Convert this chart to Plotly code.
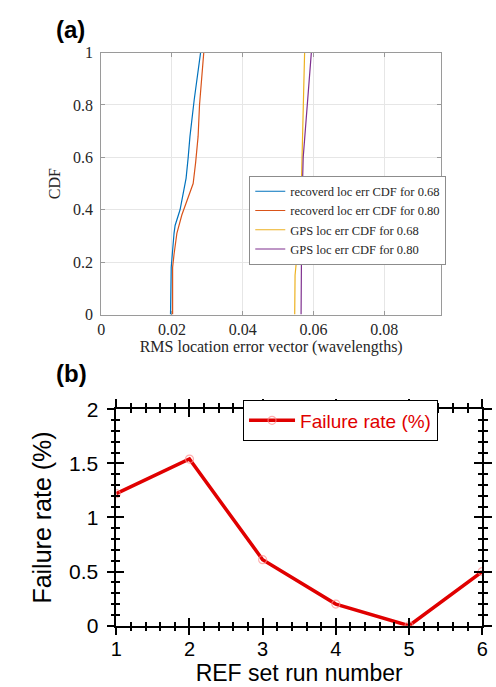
import plotly.graph_objects as go

# ---------- Panel (a) data: CDF curves ----------
rec68_cdf = [0, 0.18, 0.31, 0.34, 0.40, 0.49, 0.52, 0.60, 0.68, 0.82, 1.0]
rec68_err = [0.0196, 0.0198, 0.0206, 0.0209, 0.0223, 0.0237, 0.0240, 0.0246, 0.0251, 0.0263, 0.0281]

rec80_cdf = [0, 0.18, 0.23, 0.31, 0.38, 0.45, 0.50, 0.58, 0.68, 0.80, 0.90, 1.0]
rec80_err = [0.0202, 0.0202, 0.0206, 0.0214, 0.0228, 0.0246, 0.0260, 0.0267, 0.0274, 0.0278, 0.0283, 0.0290]

gps68_cdf = [0, 0.15, 0.22, 0.30, 0.45, 0.65, 0.80, 1.0]
gps68_err = [0.0547, 0.0548, 0.0553, 0.0560, 0.0565, 0.0568, 0.0571, 0.0575]

gps80_cdf = [0, 0.2, 0.4, 0.6, 0.7, 0.8, 1.0]
gps80_err = [0.0565, 0.0566, 0.0567, 0.0571, 0.0577, 0.0584, 0.0594]

a_xticks = [0, 0.02, 0.04, 0.06, 0.08]
a_xticklabels = ["0", "0.02", "0.04", "0.06", "0.08"]
a_yticks = [0, 0.2, 0.4, 0.6, 0.8, 1.0]
a_yticklabels = ["0", "0.2", "0.4", "0.6", "0.8", "1"]

# ---------- Panel (b) data: failure rate ----------
runs = [1, 2, 3, 4, 5, 6]
failure_rate = [1.22, 1.54, 0.61, 0.20, 0.0, 0.50]
b_yticks = [0, 0.5, 1, 1.5, 2]
b_yticklabels = ["0", "0.5", "1", "1.5", "2"]

W, H = 496, 687
SERIF = "Liberation Serif, Times New Roman, serif"
SANS = "Liberation Sans, Arial, sans-serif"

fig = go.Figure()

series = [
    (rec68_err, rec68_cdf, "recoverd loc err CDF for 0.68", "#0072BD"),
    (rec80_err, rec80_cdf, "recoverd loc err CDF for 0.80", "#D95319"),
    (gps68_err, gps68_cdf, "GPS loc err CDF for 0.68", "#EDB120"),
    (gps80_err, gps80_cdf, "GPS loc err CDF for 0.80", "#7E2F8E"),
]
for xs, ys, name, col in series:
    fig.add_trace(go.Scatter(x=xs, y=ys, mode="lines", name=name,
                             line=dict(color=col, width=1.2),
                             xaxis="x", yaxis="y", legend="legend"))

fig.add_trace(go.Scatter(x=runs, y=failure_rate, mode="lines+markers",
                         name="Failure rate (%)",
                         line=dict(color="#e00000", width=3.5),
                         marker=dict(symbol="circle-open", size=8,
                                     color="rgba(255,140,140,0.7)",
                                     line=dict(width=1.2)),
                         xaxis="x2", yaxis="y2", legend="legend2"))
# invisible trace to activate the overlay axes (inner tick halves)
fig.add_trace(go.Scatter(x=[runs[0]], y=[failure_rate[0]], mode="markers",
                         marker=dict(opacity=0), showlegend=False,
                         hoverinfo="skip", xaxis="x3", yaxis="y3"))

a_xdom = [97.5 / W, 446 / W]
a_ydom = [(H - 313) / H, (H - 42) / H]
b_xdom = [113 / W, 488 / W]
b_ydom = [(H - 635) / H, (H - 411) / H]

grid_col = "#e6e6e6"
axis_col = "#9a9a9a"

fig.update_layout(
    width=W, height=H,
    margin=dict(l=0, r=0, t=0, b=0),
    paper_bgcolor="white", plot_bgcolor="white",
    showlegend=True,
    xaxis=dict(domain=a_xdom, anchor="y", range=[0, 0.0961],
               tickvals=a_xticks, ticktext=a_xticklabels,
               showgrid=True, gridcolor=grid_col, gridwidth=1,
               zeroline=False, showline=True, linecolor=axis_col, linewidth=1,
               mirror="ticks", ticks="inside", ticklen=4, tickcolor=axis_col,
               tickfont=dict(family=SERIF, size=16, color="#262626"),
               title=dict(text="RMS location error vector (wavelengths)",
                          font=dict(family=SERIF, size=16, color="#262626"),
                          standoff=0)),
    yaxis=dict(domain=a_ydom, anchor="x", range=[0, 1],
               tickvals=a_yticks, ticktext=a_yticklabels,
               showgrid=True, gridcolor=grid_col, gridwidth=1,
               zeroline=False, showline=True, linecolor=axis_col, linewidth=1,
               mirror="ticks", ticks="inside", ticklen=4, tickcolor=axis_col,
               ticklabelstandoff=4,
               tickfont=dict(family=SERIF, size=16, color="#262626"),
               title=dict(text="CDF",
                          font=dict(family=SERIF, size=16, color="#262626"),
                          standoff=8)),
    xaxis2=dict(domain=b_xdom, anchor="y2", range=[1, 6],
                dtick=1, tick0=1, showgrid=False, zeroline=False,
                showline=True, linecolor="black", linewidth=1.5,
                mirror="ticks", ticks="outside", ticklen=8, tickwidth=1.5,
                tickcolor="black", ticklabelstandoff=-3,
                minor=dict(ticks="outside", ticklen=4, dtick=0.2, tick0=1,
                           tickcolor="black", tickwidth=1.5, showgrid=False),
                tickfont=dict(family=SANS, size=20, color="black"),
                title=dict(text="REF set run number",
                           font=dict(family=SANS, size=23, color="black"),
                           standoff=0)),
    yaxis2=dict(domain=b_ydom, anchor="x2", range=[0, 2],
                tickvals=b_yticks, ticktext=b_yticklabels,
                showgrid=False, zeroline=False,
                showline=True, linecolor="black", linewidth=1.5,
                mirror="ticks", ticks="outside", ticklen=8, tickwidth=1.5,
                tickcolor="black", ticklabelstandoff=4,
                minor=dict(ticks="outside", ticklen=4, dtick=0.1, tick0=0,
                           tickcolor="black", tickwidth=1.5, showgrid=False),
                tickfont=dict(family=SANS, size=21, color="black"),
                title=dict(text="Failure rate (%)",
                           font=dict(family=SANS, size=25, color="black"),
                           standoff=10)),
    xaxis3=dict(domain=b_xdom, anchor="y3", overlaying="x2", range=[1, 6],
                dtick=1, tick0=1, showgrid=False, zeroline=False,
                showline=False, showticklabels=False,
                mirror="ticks", ticks="inside", ticklen=8, tickwidth=1.5,
                tickcolor="black",
                minor=dict(ticks="inside", ticklen=4, dtick=0.2, tick0=1,
                           tickcolor="black", tickwidth=1.5, showgrid=False)),
    yaxis3=dict(domain=b_ydom, anchor="x3", overlaying="y2", range=[0, 2],
                dtick=0.5, tick0=0, showgrid=False, zeroline=False,
                showline=False, showticklabels=False,
                mirror="ticks", ticks="inside", ticklen=8, tickwidth=1.5,
                tickcolor="black",
                minor=dict(ticks="inside", ticklen=4, dtick=0.1, tick0=0,
                           tickcolor="black", tickwidth=1.5, showgrid=False)),
    legend=dict(x=249.3 / W, y=(H - 169.3) / H, xanchor="left", yanchor="top",
                bgcolor="white", bordercolor="#8c8c8c", borderwidth=1,
                font=dict(family=SERIF, size=12.5, color="#262626"),
                itemwidth=30, tracegroupgap=0),
    legend2=dict(x=242.7 / W, y=(H - 401.7) / H, xanchor="left", yanchor="top",
                 bgcolor="white", bordercolor="black", borderwidth=1.2,
                 font=dict(family=SANS, size=19, color="#e00000"),
                 itemwidth=46),
    annotations=[
        dict(text="<b>(a)</b>", x=49 / W, y=(H - 18) / H, xref="paper", yref="paper",
             xanchor="left", yanchor="middle", showarrow=False,
             font=dict(family=SANS, size=24, color="black")),
        dict(text="<b>(b)</b>", x=49 / W, y=(H - 374) / H, xref="paper", yref="paper",
             xanchor="left", yanchor="middle", showarrow=False,
             font=dict(family=SANS, size=24, color="black")),
    ],
)

fig.write_html("out.html")
